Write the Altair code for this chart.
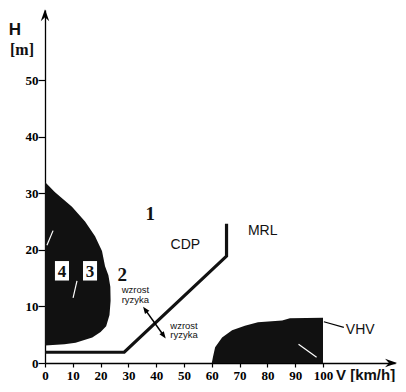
import altair as alt
import pandas as pd

# ---- data ----
# left risk zone (teardrop) boundary: H [m] -> V [km/h]
left_H = [3.1, 3.3, 3.6, 4.5, 5.5, 6.5, 8.5, 11.0, 13.5, 15.5, 17.1, 19.8, 22.4, 25.0, 27.6, 30.2, 32.0]
left_V = [0.0, 7.0, 11.0, 17.0, 20.0, 22.0, 23.2, 23.6, 23.5, 22.8, 21.6, 20.5, 18.0, 14.4, 9.7, 3.6, 0.0]

# right risk zone (VHV) top boundary
right_V = [60.0, 60.4, 61.2, 63.7, 67.3, 71.9, 76.6, 85.3, 88.1, 100.0]
right_H = [0.0, 1.0, 2.8, 4.5, 5.8, 6.6, 7.2, 7.5, 7.9, 8.0]

# CDP / MRL boundary line
line_V = [0.0, 28.5, 65.3, 65.3]
line_H = [1.9, 1.9, 18.9, 24.6]

# risk-increase arrow
arrow_V = [36.1, 42.6]
arrow_H = [9.4, 4.9]

# VHV leader line
leader_V = [100.3, 107.5]
leader_H = [7.3, 6.3]

# white scratches inside the zones
scratch_id = [1, 1, 2, 2, 3, 3]
scratch_V = [2.9, 0.7, 11.5, 10.1, 91.2, 97.7]
scratch_H = [23.4, 20.8, 14.5, 11.5, 3.3, 1.0]

# labels
big_labels = ["1", "2"]
big_V = [37.9, 27.8]
big_H = [26.4, 15.6]

box_labels = ["4", "3"]
box_V = [6.1, 16.2]
box_H = [16.3, 16.3]

zone_labels = ["CDP", "MRL"]
zone_V = [50.5, 78.3]
zone_H = [20.8, 23.3]

vhv_label = ["VHV"]
vhv_V = [108.2]
vhv_H = [5.8]

small_labels = ["wzrost", "ryzyka", "wzrost", "ryzyka"]
small_V = [32.5, 32.5, 50.0, 50.0]
small_H = [12.9, 11.2, 6.6, 4.9]

x_ticks = [0, 10, 20, 30, 40, 50, 60, 70, 80, 90, 100]
y_ticks = [0, 10, 20, 30, 40, 50]

W, H = 350, 353
XMAX = 125.9
YMAX = 62.4

xs = alt.Scale(domain=[0, XMAX], nice=False, zero=False)
ys = alt.Scale(domain=[0, YMAX], nice=False, zero=False)

SERIF = "Liberation Serif"
SANS = "Liberation Sans"

xaxis = alt.Axis(values=x_ticks, grid=False, title=None, labelFont=SERIF, labelFontWeight="bold",
                 labelFontSize=13, labelColor="black", tickColor="black", tickSize=4,
                 domainColor="black", domainWidth=1.3, tickWidth=1.2, labelPadding=2, labelFlush=False)
yaxis = alt.Axis(values=y_ticks, grid=False, title=None, labelFont=SERIF, labelFontWeight="bold",
                 labelFontSize=13, labelColor="black", tickColor="black", tickSize=7,
                 domainColor="black", domainWidth=1.3, tickWidth=1.2, labelPadding=0)

def X(field="V"):
    return alt.X(f"{field}:Q", scale=xs, axis=xaxis, title=None)

def Y(field="H"):
    return alt.Y(f"{field}:Q", scale=ys, axis=yaxis, title=None)

left_df = pd.DataFrame({"V": left_V, "H": left_H, "V0": [0.0] * len(left_V)})
left_zone = alt.Chart(left_df).mark_area(orient="horizontal", color="#111111", opacity=1).encode(
    y=Y(), x=X(), x2="V0:Q"
)

right_df = pd.DataFrame({"V": right_V, "H": right_H, "H0": [0.0] * len(right_V)})
right_zone = alt.Chart(right_df).mark_area(color="#111111", opacity=1).encode(
    x=X(), y=Y(), y2="H0:Q"
)

scr_df = pd.DataFrame({"id": scratch_id, "V": scratch_V, "H": scratch_H,
                       "o": list(range(len(scratch_V)))})
scratches = alt.Chart(scr_df).mark_line(color="white", strokeWidth=1.2).encode(
    x=X(), y=Y(), detail="id:N", order="o:Q"
)

line_df = pd.DataFrame({"V": line_V, "H": line_H, "o": list(range(len(line_V)))})
bound_line = alt.Chart(line_df).mark_line(color="#111111", strokeWidth=3.2).encode(
    x=X(), y=Y(), order="o:Q"
)

arr_df = pd.DataFrame({"V": arrow_V, "H": arrow_H, "o": [0, 1]})
arrow_line = alt.Chart(arr_df).mark_line(color="black", strokeWidth=1.5).encode(
    x=X(), y=Y(), order="o:Q"
)
head_df = pd.DataFrame({"V": arrow_V, "H": arrow_H, "ang": [324, 144]})
arrow_heads = alt.Chart(head_df).mark_point(
    shape="M0,-1 L0.7,0.8 L-0.7,0.8 Z", filled=True, color="black", size=60, opacity=1
).encode(x=X(), y=Y(), angle=alt.Angle("ang:Q", scale=None))

lead_df = pd.DataFrame({"V": leader_V, "H": leader_H, "o": [0, 1]})
leader = alt.Chart(lead_df).mark_line(color="black", strokeWidth=1.2).encode(
    x=X(), y=Y(), order="o:Q"
)

# axis arrowheads (at the axis ends)
axhead_df = pd.DataFrame({"V": [0.0, 124.1], "H": [61.3, 0.0], "ang": [0, 90]})
ax_heads = alt.Chart(axhead_df).mark_point(
    shape="M0,-1 L0.6,0.7 L0,0.15 L-0.6,0.7 Z", filled=True, color="black", size=200, opacity=1
).encode(x=X(), y=Y(), angle=alt.Angle("ang:Q", scale=None))

big_df = pd.DataFrame({"V": big_V, "H": big_H, "t": big_labels})
big_text = alt.Chart(big_df).mark_text(font=SERIF, fontWeight="bold", fontSize=19, color="#111111").encode(
    x=X(), y=Y(), text="t:N"
)

box_df = pd.DataFrame({"V": box_V, "H": box_H, "t": box_labels})
boxes = alt.Chart(box_df).mark_point(
    shape="M-0.72,-1 L0.72,-1 L0.72,1 L-0.72,1 Z", filled=True, color="white", size=380, opacity=1
).encode(x=X(), y=Y())
box_text = alt.Chart(box_df).mark_text(font=SERIF, fontWeight="bold", fontSize=17, color="#111111", dy=1).encode(
    x=X(), y=Y(), text="t:N"
)

zone_df = pd.DataFrame({"V": zone_V, "H": zone_H, "t": zone_labels})
zone_text = alt.Chart(zone_df).mark_text(font=SANS, fontSize=14, color="#111111").encode(
    x=X(), y=Y(), text="t:N"
)

vhv_df = pd.DataFrame({"V": vhv_V, "H": vhv_H, "t": vhv_label})
vhv_text = alt.Chart(vhv_df).mark_text(font=SANS, fontSize=14, color="#111111", align="left").encode(
    x=X(), y=Y(), text="t:N"
)

small_df = pd.DataFrame({"V": small_V, "H": small_H, "t": small_labels})
small_text = alt.Chart(small_df).mark_text(font=SANS, fontSize=9.5, color="#111111").encode(
    x=X(), y=Y(), text="t:N"
)

# axis titles (placed in pixels relative to the plot area)
h_title = alt.Chart(pd.DataFrame({"t": ["H"]})).mark_text(
    font=SANS, fontWeight="bold", fontSize=17, color="#111111"
).encode(x=alt.value(-30), y=alt.value(20), text="t:N")
m_title = alt.Chart(pd.DataFrame({"t": ["[m]"]})).mark_text(
    font=SERIF, fontWeight="bold", fontSize=16, color="#111111"
).encode(x=alt.value(-23), y=alt.value(40), text="t:N")
v_title = alt.Chart(pd.DataFrame({"t": ["V [km/h]"]})).mark_text(
    font=SANS, fontWeight="bold", fontSize=15, color="#111111", align="left"
).encode(x=alt.value(291), y=alt.value(H + 12), text="t:N")

chart = alt.layer(
    left_zone, right_zone, scratches, bound_line, arrow_line, arrow_heads, leader, ax_heads,
    boxes, box_text, big_text, zone_text, vhv_text, small_text, h_title, m_title, v_title
).properties(
    width=W, height=H,
    padding={"left": 37, "top": 2, "right": 3, "bottom": 19},
    autosize=alt.AutoSizeParams(type="none"),
    background="white",
).configure_view(stroke=None)

chart.save("out.html", embed_options={"renderer": "svg", "actions": False})
